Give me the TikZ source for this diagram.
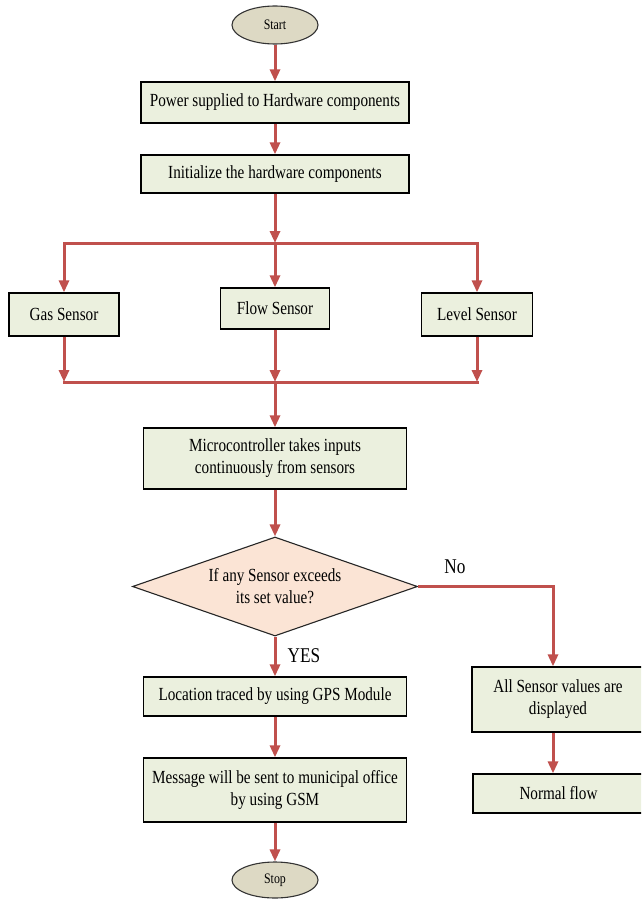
\documentclass[tikz,border=0pt]{standalone}
\usepackage{fontspec}
\setmainfont{Liberation Serif}[FakeStretch=0.82]
\usetikzlibrary{arrows.meta,shapes.geometric}
\definecolor{boxfill}{HTML}{EBF0DE}
\definecolor{diafill}{HTML}{FBE4D5}
\definecolor{ovalfill}{HTML}{DDD9C4}
\definecolor{arrowred}{HTML}{C0504D}
\begin{document}
\begin{tikzpicture}[x=1pt,y=-1pt,
  procbox/.style={draw=black, line width=1.3pt, fill=boxfill, inner sep=0pt, align=center, font=\fontsize{18.5}{22}\selectfont},
  oval/.style={ellipse, draw=black!80, line width=1.1pt, fill=ovalfill, inner sep=0pt, font=\fontsize{14.5}{17}\selectfont},
  decide/.style={diamond, aspect=2.88, draw=black!85, line width=1.1pt, fill=diafill, inner sep=0pt, align=center, font=\fontsize{18.5}{22}\selectfont},
  flow/.style={draw=arrowred, line width=3pt},
  flowarr/.style={flow, -{Triangle[length=12pt,width=10pt]}},
  bus/.style={flow, line cap=rect},
  lbl/.style={inner sep=0pt, font=\fontsize{21}{24}\selectfont}]
\useasboundingbox (0,0) rectangle (641,899);
\clip (0,0) rectangle (641,899);
\fill[white] (0,0) rectangle (641,899);

% nodes
\node[oval, minimum width=86pt, minimum height=38pt] (start) at (275,25) {Start};
\node[procbox, minimum width=268pt, minimum height=41pt] (power) at (275,102.5) {Power supplied to Hardware components};
\node[procbox, minimum width=268pt, minimum height=38pt] (init) at (275,174) {Initialize the hardware components};
\node[procbox, minimum width=110pt, minimum height=43pt] (gas) at (64,314.5) {Gas Sensor};
\node[procbox, minimum width=109pt, minimum height=41pt] (flowS) at (275,308.5) {Flow Sensor};
\node[procbox, minimum width=111pt, minimum height=43pt] (level) at (477,314.5) {Level Sensor};
\node[procbox, minimum width=263pt, minimum height=61pt] (micro) at (275,458.5) {Microcontroller takes inputs\\continuously from sensors};
\node[decide, minimum width=285pt, minimum height=99pt] (dec) at (275,586.5) {If any Sensor exceeds\\its set value?};
\node[procbox, minimum width=263pt, minimum height=39pt] (loc) at (275,696.5) {Location traced by using GPS Module};
\node[procbox, minimum width=263pt, minimum height=64pt] (msg) at (275,790) {Message will be sent to municipal office\\by using GSM};
\node[oval, minimum width=86pt, minimum height=36pt] (stop) at (275,880) {Stop};
\node[procbox, minimum width=172pt, minimum height=65pt] (all) at (558,699.5) {All Sensor values are\\displayed};
\node[procbox, minimum width=171pt, minimum height=39pt] (normal) at (558.5,793.5) {Normal flow};

\node[lbl] (nolbl) at (455,567) {No};
\node[lbl] (yeslbl) at (304,656) {YES};

% bus coordinates
\coordinate (busT) at (275,243);
\coordinate (busTL) at (64,243);
\coordinate (busTR) at (477,243);
\coordinate (busB) at (275,382);
\coordinate (busBL) at (64,382);
\coordinate (busBR) at (477,382);
\coordinate (noTurn) at (553,586.5);

% connectors
\draw[flowarr] (start) -- (power);
\draw[flowarr] (power) -- (init);
\draw[flowarr] (init) -- (busT);
\draw[bus] (busTL) -- (busTR);
\draw[flowarr] (busTL) -- (gas);
\draw[flowarr] (busT) -- (flowS);
\draw[flowarr] (busTR) -- (level);
\draw[flowarr] (gas) -- (busBL);
\draw[flowarr] (flowS) -- (busB);
\draw[flowarr] (level) -- (busBR);
\draw[bus] (busBL) -- (busBR);
\draw[flowarr] (busB) -- (micro);
\draw[flowarr] (micro) -- (dec);
\draw[flowarr] (dec) -- (loc);
\draw[flowarr] (loc) -- (msg);
\draw[flowarr] (msg) -- (stop);
\draw[flowarr] (dec.east) -- (noTurn) -- (noTurn |- all.north);
\draw[flowarr] (all.south -| noTurn) -- (normal.north -| noTurn);
\end{tikzpicture}
\end{document}
